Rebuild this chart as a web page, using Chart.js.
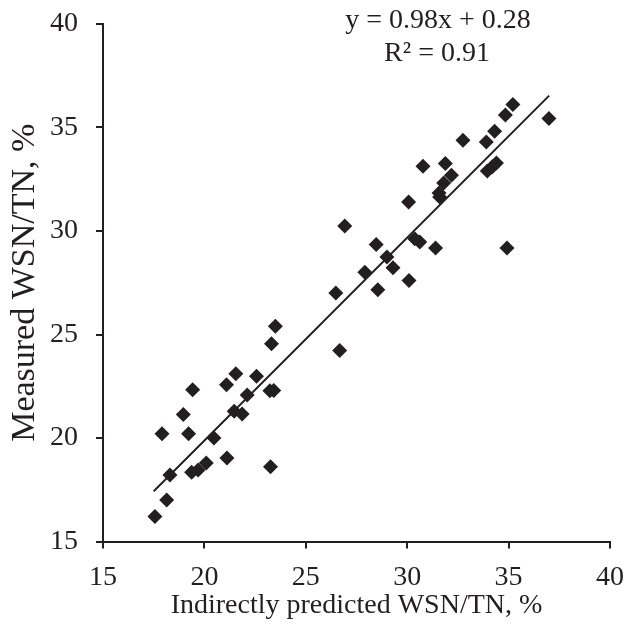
<!DOCTYPE html>
<html>
<head>
<meta charset="utf-8">
<script src="https://cdn.jsdelivr.net/npm/chart.js@4.4.1/dist/chart.umd.min.js"></script>
<style>
  html, body { margin: 0; padding: 0; background: #ffffff; }
  #wrap { width: 633px; height: 632px; }
</style>
</head>
<body>
<div id="wrap"><canvas id="chart" width="633" height="632"></canvas></div>
<script>
// Indirectly predicted vs measured WSN/TN (%)
const predicted = [
  17.56, 18.14, 18.30, 17.91, 18.96, 19.22, 19.42, 19.37, 19.69, 20.09,
  20.47, 21.11, 21.09, 21.55, 21.47, 21.86, 22.11, 22.57, 23.23, 23.42,
  23.26, 23.31, 23.50, 26.67, 26.48, 26.92, 28.55, 28.47, 27.91, 29.00,
  29.30, 30.09, 30.07, 30.37, 30.62, 31.40, 30.78, 31.57, 31.60, 31.80,
  32.18, 31.88, 32.75, 33.90, 34.31, 33.95, 34.20, 34.40, 34.84, 35.21,
  36.99, 34.92
];
const measured = [
  16.21, 17.00, 18.21, 20.20, 21.13, 20.20, 22.33, 18.34, 18.45, 18.79,
  20.00, 19.03, 22.57, 23.10, 21.29, 21.16, 22.08, 22.98, 22.28, 22.30,
  18.61, 24.55, 25.40, 24.23, 27.00, 30.24, 27.16, 29.35, 28.01, 28.74,
  28.23, 27.61, 31.40, 29.63, 29.47, 29.18, 33.13, 31.84, 31.64, 32.32,
  32.69, 33.26, 34.39, 34.30, 34.82, 32.90, 33.10, 33.29, 35.60, 36.11,
  35.43, 29.18
];
const fitSlope = 0.98;
const fitIntercept = 0.28;
const fitRange = [17.5, 37.0];
const xTicks = [15, 20, 25, 30, 35, 40];
const yTicks = [15, 20, 25, 30, 35, 40];
const equationLines = ['y = 0.98x + 0.28', 'R\u00b2 = 0.91'];

const ink = '#231f20';
const serif = "'Liberation Serif', 'Times New Roman', serif";

const points = predicted.map((x, i) => ({ x: x, y: measured[i] }));
const fitLine = fitRange.map(x => ({ x: x, y: fitSlope * x + fitIntercept }));

// writes the regression equation above the plot
const equationPlugin = {
  id: 'equation',
  afterDraw(chart) {
    const ctx = chart.ctx;
    ctx.save();
    ctx.fillStyle = ink;
    ctx.font = '28px ' + serif;
    ctx.textAlign = 'center';
    ctx.textBaseline = 'alphabetic';
    ctx.fillText(equationLines[0], 438, 28);
    ctx.fillText(equationLines[1], 437, 61);
    ctx.restore();
  }
};

new Chart(document.getElementById('chart'), {
  type: 'scatter',
  data: {
    datasets: [
      {
        label: 'Samples',
        data: points,
        pointStyle: 'rectRot',
        pointRadius: 7.5,
        pointHoverRadius: 7.5,
        backgroundColor: ink,
        borderColor: ink,
        borderWidth: 0
      },
      {
        label: 'Fit',
        data: fitLine,
        showLine: true,
        pointRadius: 0,
        borderColor: ink,
        borderWidth: 2,
        fill: false
      }
    ]
  },
  options: {
    responsive: false,
    animation: false,
    layout: { padding: { top: 24, right: 23, left: 0, bottom: 0 } },
    plugins: {
      legend: { display: false },
      tooltip: { enabled: false }
    },
    scales: {
      x: {
        type: 'linear',
        min: 15,
        max: 40,
        afterFit(scale) {
          scale.height = 90.5;
          scale.paddingLeft = 0;
          scale.paddingRight = 0;
        },
        afterBuildTicks(scale) { scale.ticks = xTicks.map(v => ({ value: v })); },
        grid: { drawOnChartArea: false, drawTicks: true, tickLength: 7, color: ink, lineWidth: 2 },
        border: { display: true, color: ink, width: 2 },
        ticks: { color: ink, font: { family: serif, size: 28 }, padding: 12, maxRotation: 0 },
        title: {
          display: true,
          text: 'Indirectly predicted WSN/TN, %',
          color: ink,
          font: { family: serif, size: 28 },
          padding: 10
        }
      },
      y: {
        type: 'linear',
        min: 15,
        max: 40,
        afterFit(scale) {
          scale.width = 103;
          scale.paddingTop = 0;
          scale.paddingBottom = 0;
        },
        afterBuildTicks(scale) { scale.ticks = yTicks.map(v => ({ value: v })); },
        grid: { drawOnChartArea: false, drawTicks: true, tickLength: 7, color: ink, lineWidth: 2 },
        border: { display: true, color: ink, width: 2 },
        ticks: { color: ink, font: { family: serif, size: 28 }, padding: 18 },
        title: {
          display: true,
          text: 'Measured WSN/TN, %',
          color: ink,
          font: { family: serif, size: 34 },
          padding: 5
        }
      }
    }
  },
  plugins: [equationPlugin]
});
</script>
</body>
</html>
